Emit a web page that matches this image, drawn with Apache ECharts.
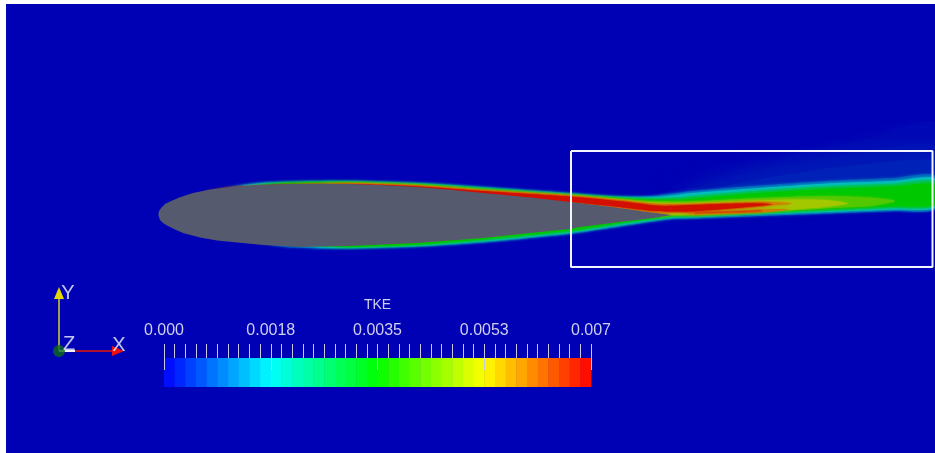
<!DOCTYPE html>
<html><head><meta charset="utf-8">
<style>html,body{margin:0;padding:0;background:#fff}#c{width:935px;height:453px}</style>
<script src="https://cdn.jsdelivr.net/npm/echarts@6/dist/echarts.min.js"></script>
</head><body><div id="c"></div>
<script>
// ---- Colour-bar: scale, tick labels and the 40 bins of the lookup table (TKE) ----
const tkeTitle = 'TKE';
const tkeTickLabels = ['0.000', '0.0018', '0.0035', '0.0053', '0.007'];
const tkeBins = [0,0.000175,0.00035,0.000525,0.0007,0.000875,0.00105,0.001225,0.0014,0.001575,
  0.00175,0.001925,0.0021,0.002275,0.00245,0.002625,0.0028,0.002975,0.00315,0.003325,
  0.0035,0.003675,0.00385,0.004025,0.0042,0.004375,0.00455,0.004725,0.0049,0.005075,
  0.00525,0.005425,0.0056,0.005775,0.00595,0.006125,0.0063,0.006475,0.00665,0.006825];

// ---- Field: iso-TKE rings, lowest level first ----
const hazeA = [[650,197],[690,186],[730,172],[790,156],[860,140],[935,122],[935,182],[680,199]];
const hazeB = [[660,197],[700,186],[760,170],[830,156],[935,145],[935,182],[700,197]];
const hazeC = [[668,197],[705,190],[760,179],[830,168],[935,160],[935,180],[700,196]];
const ringL1 = [[205,195],[240,185],[290,181.8],[350,181],[417,183],[483,187],[570,193],[610,196],[640,196.5],[660,195],[693,191],[760,185.5],[827,181],[893,178],[935,175.5],[935,209],[893,211],[827,213.5],[760,216],[693,218.5],[672,219],[653,221.5],[620,226.5],[580,232.5],[560,235],[483,242.5],[417,246.5],[350,248.5],[300,248],[275,245.8],[263,242],[205,215]];
const ringL2 = [[220,195],[250,184.5],[290,182.2],[350,181.5],[417,183.5],[483,187.7],[570,194],[610,196.8],[640,197.6],[660,196.8],[693,193],[760,188],[827,183.5],[893,181],[935,178.5],[935,207.5],[893,209.5],[827,212],[760,214.5],[693,217.3],[672,218],[653,220.5],[620,225.5],[580,231.5],[560,234],[483,241.5],[417,246],[350,248],[320,247.5],[300,245],[220,215]];
const ringL3 = [[230,195],[260,184.6],[290,182.6],[350,181.9],[417,184],[483,188.2],[570,194.5],[620,197.6],[650,198.5],[680,197.5],[693,196],[760,190.5],[827,186.3],[893,183.7],[935,181.5],[935,206],[893,208],[827,210.7],[760,213.5],[693,216.5],[672,217],[653,219.5],[620,224.2],[580,230.5],[560,233],[483,240.5],[417,245.3],[350,247.2],[325,246.6],[310,244],[230,215]];
const ringL4 = [[240,195],[270,185],[290,183],[350,182.3],[417,184.5],[483,188.9],[570,195],[620,198],[650,199.6],[680,199.7],[693,198.7],[760,193],[827,189],[893,186.5],[935,184.5],[935,204.5],[893,206.2],[827,209.2],[760,212.2],[693,215.6],[672,216],[653,218.3],[620,222.8],[580,229.3],[560,231.6],[483,239.2],[417,244.4],[350,246.7],[335,246.2],[325,243],[240,215]];
const ringL5 = [[250,195],[280,185],[350,182.9],[417,184.8],[483,189.4],[570,195],[620,199],[650,201.2],[680,201.5],[693,201.5],[760,198],[827,196],[870,197.5],[895,201],[870,206],[827,208.3],[760,212.2],[693,215.2],[672,215.5],[653,217],[620,218],[620,210],[250,205]];
const ringL6 = [[290,186],[350,183.2],[417,185.2],[483,189.9],[570,195.3],[620,199.5],[650,202.3],[680,203],[727,201.5],[760,200.3],[793,199.5],[825,200],[848,203.5],[825,207],[793,209.5],[760,211.7],[727,213.7],[693,214.8],[672,215],[653,216],[620,214],[570,205],[290,190]];
const ringL7 = [[300,186],[350,183.6],[417,185.6],[483,190.3],[570,195.4],[620,200],[655,203.7],[680,204],[727,202.7],[760,201.7],[792,203.5],[760,206.8],[745,208.3],[727,210],[693,213],[672,213],[655,214],[620,212],[570,205],[300,190]];
const ringL7b = [[683,211.6],[727,211],[767,209.3],[790,209],[767,212],[727,213.6],[690,214.3]];
const ringL8 = [[205,192],[233,187],[290,184.3],[340,184],[370,184.5],[417,186.3],[483,191],[530,194],[570,196.5],[593,198.5],[627,202],[660,205.8],[693,205],[727,203.8],[753,203.2],[772,204.2],[753,206.5],[727,208.8],[693,211.5],[672,211.5],[655,211],[627,208],[593,204.3],[570,202],[290,190],[205,196]];
const ringL8b = [[695,212.2],[727,211.6],[762,210.3],[762,211.2],[727,212.8],[695,213.4]];
const fieldLevels = [0.00008,0.00016,0.0003,0.0009,0.00175,0.0027,0.0035,0.0042,0.0049,0.0059,0.0059,0.0069,0.0064];
const fieldRings = [hazeA,hazeB,hazeC,ringL1,ringL2,ringL3,ringL4,ringL5,ringL6,ringL7,ringL7b,ringL8,ringL8b];

// ---- Solid surface, probe box and orientation triad ----
const airfoil = [[158.3,215],[159,211],[161.5,207.5],[165,204],[170,201.5],[180,197.3],[193,193],[210,189.5],[233,186.7],[260,185],[290,184],[320,183.8],[350,184],[385,185.3],[417,187],[450,189.8],[483,193],[530,197.5],[570,202],[610,206.7],[653,212.7],[672,215],[653,218],[620,222],[580,227],[570,229],[530,233],[483,238],[417,243],[350,246],[300,247],[263,245],[217,240.5],[200,237.5],[183,233],[175,229.5],[167,225.5],[163,223],[160,220]];
const probeBox = [[571,151],[932.5,151],[932.5,267],[571,267],[571,151]];
const triadOrigin = [59,351];
const triadYShaft = [[59,351],[59,297]];
const triadXShaft = [[59,351],[113,351]];
const triadZShaft = [[59,351],[75,351]];
const triadYCone = [[59,287],[54,299],[64,299]];
const triadXCone = [[124,351],[112,346],[112,356]];
const triadLabels = [[119,345,'X'],[68,293,'Y'],[69,344,'Z']];

const textColor = '#CFCFEE';
const font = '"Liberation Sans", Arial, sans-serif';

const polygon = (pts, api, fill, blur, smooth) => ({
  type:'polygon', shape:{points:pts.map(p=>api.coord(p)), smooth:smooth},
  style:{fill, shadowBlur:blur, shadowColor:fill}
});
const shaft = (data,color,width,z) => ({type:'line',xAxisIndex:0,yAxisIndex:0,data,symbol:'none',silent:true,z,
  lineStyle:{color,width},animation:false});

const chart = echarts.init(document.getElementById('c'),null,{renderer:'canvas'});
chart.setOption({
  animation:false,
  backgroundColor:'#ffffff',
  grid:[
    {left:6,top:4,right:0,bottom:0,show:true,backgroundColor:'#0000B4',borderWidth:0},
    {left:164,top:358,width:427,height:29,show:false},
    {left:164,top:300,width:427,height:44,show:false}
  ],
  xAxis:[
    {gridIndex:0,type:'value',min:6,max:935,show:false},
    {gridIndex:1,type:'value',min:0,max:0.007,show:false},
    {gridIndex:2,type:'value',min:0,max:0.007,interval:0.00175,position:'bottom',z:20,
     name:tkeTitle,nameLocation:'middle',nameGap:-46,
     nameTextStyle:{color:textColor,fontFamily:font,fontSize:14},
     axisLine:{show:false},splitLine:{show:false},
     axisTick:{show:true,inside:false,length:26,lineStyle:{color:'#C9C9E6',width:1}},
     minorTick:{show:true,splitNumber:10,length:14,lineStyle:{color:'#C9C9E6',width:1}},
     axisLabel:{inside:true,color:textColor,fontFamily:font,fontSize:16,margin:5,showMinLabel:true,showMaxLabel:true,
       formatter:(v,i)=>tkeTickLabels[i]}}
  ],
  yAxis:[
    {gridIndex:0,type:'value',min:4,max:453,inverse:true,show:false},
    {gridIndex:1,type:'value',min:0,max:1,show:false},
    {gridIndex:2,type:'value',min:0,max:1,show:false}
  ],
  visualMap:[
    {show:false,type:'continuous',seriesIndex:0,dimension:0,min:0,max:0.007,
     inRange:{color:['#0000B4','#00BEC4','#00C800','#CCC800','#D20400']}},
    {show:false,type:'continuous',seriesIndex:8,dimension:0,min:0,max:0.007,
     inRange:{color:['#0000FF','#00FFFF','#00FF00','#FFFF00','#FF0000']}}
  ],
  series:[
    {type:'custom',xAxisIndex:0,yAxisIndex:0,clip:true,silent:true,z:2,
     data:fieldLevels.map((l,i)=>[l,i]),
     renderItem:(p,api)=>{
       const i=api.value(1);
       return polygon(fieldRings[i],api,api.visual('color'),i<3?26:(i<7?3:2.5),0.25);
     }},
    {type:'custom',xAxisIndex:0,yAxisIndex:0,silent:true,z:3,data:[[0]],
     renderItem:(p,api)=>polygon(airfoil,api,'#555A6E',0,0)},
    {type:'line',xAxisIndex:0,yAxisIndex:0,data:probeBox,symbol:'none',silent:true,z:4,
     lineStyle:{color:'#F4F4FF',width:2}},
    shaft(triadYShaft,'#A39C58',2,5),
    shaft(triadXShaft,'#B01030',2,5),
    shaft(triadZShaft,'#F0F0FF',2,6),
    {type:'custom',xAxisIndex:0,yAxisIndex:0,silent:true,z:7,data:[[0],[1]],
     renderItem:(p,api)=>{
       const i=api.value(0);
       return polygon(i===0?triadYCone:triadXCone,api,i===0?'#E0D800':'#EE1010',0,0);
     }},
    {type:'scatter',xAxisIndex:0,yAxisIndex:0,silent:true,z:8,data:[triadOrigin],symbol:'circle',symbolSize:12,
     itemStyle:{color:'#0B6B1A'}},
    {type:'custom',xAxisIndex:1,yAxisIndex:1,silent:true,z:2,
     data:tkeBins.map((b,i)=>[b+0.0000875,i]),
     renderItem:(p,api)=>{
       const i=api.value(1);
       const a=api.coord([tkeBins[i],1]);
       const b=api.coord([i+1<tkeBins.length?tkeBins[i+1]:0.007,0]);
       return {type:'rect',shape:{x:a[0],y:a[1],width:b[0]-a[0]+0.5,height:b[1]-a[1]},
         style:{fill:api.visual('color')}};
     }},
    {type:'scatter',xAxisIndex:0,yAxisIndex:0,silent:true,z:9,data:triadLabels,symbolSize:0,
     label:{show:true,position:'inside',color:'#F4F4FF',fontFamily:font,fontSize:20,
       formatter:p=>p.value[2]}}
  ]
});
</script></body></html>
